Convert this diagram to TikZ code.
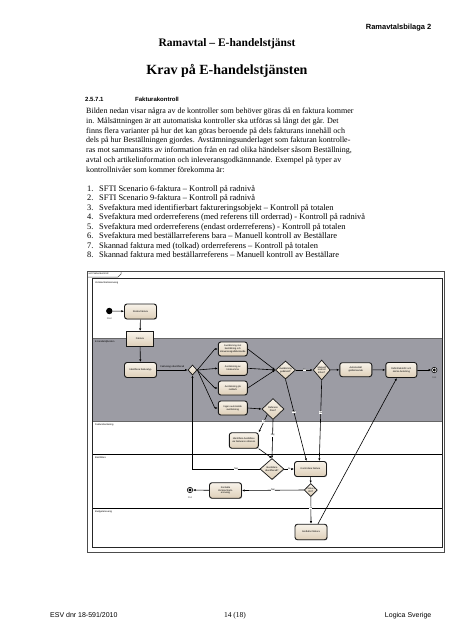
\documentclass[tikz,border=0pt]{standalone}
\usepackage{fontspec}
\setmainfont{Liberation Serif}
\setsansfont{Liberation Sans}
\usepackage{tikz}
\usetikzlibrary{shapes.geometric,arrows.meta,shadows}
\pgfdeclarelayer{lanes}
\pgfdeclarelayer{bg}
\pgfsetlayers{lanes,bg,main}
\definecolor{lanegrey}{RGB}{156,156,164}
\definecolor{actlight}{RGB}{248,243,234}
\definecolor{actdark}{RGB}{222,207,184}
\newcommand{\umlfont}{\fontsize{2.4}{2.8}\selectfont\sffamily}
\tikzset{
    every node/.style={inner sep=0pt},
    act/.style={rectangle, rounded corners=2.5pt, draw=black!90, line width=0.9pt,
        top color=actlight, bottom color=actdark, align=center, font=\umlfont,
        drop shadow={shadow xshift=0.7pt, shadow yshift=-0.7pt, fill=black!45},
        minimum width=32pt, minimum height=15pt},
    obj/.style={act, rounded corners=0pt, minimum width=27pt},
    dec/.style={diamond, draw=black!90, line width=0.7pt, top color=actlight,
        bottom color=actdark, align=center, font=\umlfont,
        drop shadow={shadow xshift=0.6pt, shadow yshift=-0.6pt, fill=black!45}},
    startn/.style={circle, fill=black, minimum size=6.4pt},
    endn/.style={circle, draw=black, line width=0.6pt, fill=white, minimum size=5.4pt,
        path picture={\fill[black] (path picture bounding box.center) circle (1.6pt);}},
    flow/.style={draw, line width=0.6pt, -{Latex[length=2.6pt,width=2.2pt]}},
    lbl/.style={font=\umlfont, fill=white, inner sep=0.3pt},
    small/.style={font=\umlfont, text=black!70},
    lane/.style={font=\umlfont, anchor=west},
    body/.style={font=\fontsize{8}{9.82}\selectfont, anchor=base west},
    item/.style={font=\fontsize{8.4}{9.5}\selectfont, anchor=base west}
}

\begin{document}
\begin{tikzpicture}[x=1pt, y=-1pt]
    \useasboundingbox (0,0) rectangle (453,640);

    % page head
    \node (bilaga) [anchor=east, font=\fontsize{7.5}{9}\selectfont\sffamily\bfseries] at (431.5, 27.7) {Ramavtalsbilaga 2};
    \node (rubrik) [font=\fontsize{11.5}{13}\selectfont\bfseries] at (227, 43.5) {Ramavtal -- E-handelstjänst};
    \node (titel) [font=\fontsize{14}{16}\selectfont\bfseries] at (227, 70.5) {Krav på E-handelstjänsten};
    \node (secnr) [anchor=base west, font=\fontsize{6}{7}\selectfont\sffamily\bfseries] at (85, 101) {2.5.7.1};
    \node (secrub) [anchor=base west, font=\fontsize{6}{7}\selectfont\sffamily\bfseries] at (135, 101) {Fakturakontroll};

    \node (p1) [body] at (86, 113.5) {Bilden nedan visar några av de kontroller som behöver göras då en faktura kommer};
    \node (p2) [body] at (86, 123.3) {in. Målsättningen är att automatiska kontroller ska utföras så långt det går. Det};
    \node (p3) [body] at (86, 133.1) {finns flera varianter på hur det kan göras beroende på dels fakturans innehåll och};
    \node (p4) [body] at (86, 142.9) {dels på hur Beställningen gjordes. Avstämningsunderlaget som fakturan kontrolle-};
    \node (p5) [body] at (86, 152.7) {ras mot sammansätts av information från en rad olika händelser såsom Beställning,};
    \node (p6) [body] at (86, 162.5) {avtal och artikelinformation och inleveransgodkännnande. Exempel på typer av};
    \node (p7) [body] at (86, 172.3) {kontrollnivåer som kommer förekomma är:};

    \node (l1) [item] at (87, 191.2) {\makebox[12pt][l]{1.}SFTI Scenario 6-faktura -- Kontroll på radnivå};
    \node (l2) [item] at (87, 200.7) {\makebox[12pt][l]{2.}SFTI Scenario 9-faktura -- Kontroll på radnivå};
    \node (l3) [item] at (87, 210.2) {\makebox[12pt][l]{3.}Svefaktura med identifierbart faktureringsobjekt -- Kontroll på totalen};
    \node (l4) [item] at (87, 219.7) {\makebox[12pt][l]{4.}Svefaktura med orderreferens (med referens till orderrad) - Kontroll på radnivå};
    \node (l5) [item] at (87, 229.2) {\makebox[12pt][l]{5.}Svefaktura med orderreferens (endast orderreferens) - Kontroll på totalen};
    \node (l6) [item] at (87, 238.7) {\makebox[12pt][l]{6.}Svefaktura med beställarreferens bara -- Manuell kontroll av Beställare};
    \node (l7) [item] at (87, 248.2) {\makebox[12pt][l]{7.}Skannad faktura med (tolkad) orderreferens -- Kontroll på totalen};
    \node (l8) [item] at (87, 257.7) {\makebox[12pt][l]{8.}Skannad faktura med beställarreferens -- Manuell kontroll av Beställare};

    % frame and swimlanes
    \begin{pgfonlayer}{lanes}
        \fill[lanegrey] (92.5, 338) rectangle (442, 421);
        \draw[black!70, line width=0.5pt] (87, 271) rectangle (444, 552);
        \draw[black!70, line width=0.5pt] (87, 277) -- (118, 277) -- (121, 274) -- (121, 271);
        \draw[black!85, line width=0.8pt] (92.5, 278.5) rectangle (442, 547);
        \draw[black!60, line width=0.6pt] (92.5, 338) -- (442, 338);
        \draw[black!60, line width=0.6pt] (92.5, 421) -- (442, 421);
        \draw[black, line width=0.8pt] (92.5, 454) -- (442, 454);
        \draw[black, line width=0.8pt] (92.5, 508) -- (442, 508);
    \end{pgfonlayer}
    \node (act) [lane] at (88.5, 274) {act Fakturakontroll};
    \node (lane1) [lane] at (95, 283) {Verksamhetsansvarig};
    \node (lane2) [lane] at (95, 342) {E-handelstjänsten};
    \node (lane3) [lane] at (95, 425) {Fakturahantering};
    \node (lane4) [lane] at (95, 458) {Beställare};
    \node (lane5) [lane] at (95, 512) {Budgetansvarig};

    % activities
    \node (start) [startn] at (109.3, 311) {};
    \node (startl) [small] at (109.3, 319) {Start};
    \node (skicka) [act] at (140.5, 311.5) {Skicka faktura};
    \node (faktura) [obj] at (140, 339) {Faktura};
    \node (ident) [act] at (140.5, 370) {Identifiera fakturatyp};
    \node (d1) [dec, minimum width=9pt, minimum height=10pt] at (192.5, 370) {};
    \node (na) [act, minimum width=29pt, minimum height=14pt] at (232.8, 349) {Avstämning mot\\beställning och\\inleveransgodkännande};
    \node (nb) [act, minimum width=29pt, minimum height=14pt] at (232.8, 368.3) {Avstämning av\\totalsumma};
    \node (nc) [act, minimum width=29pt, minimum height=14pt] at (232.8, 388) {Avstämning på\\radnivå};
    \node (nd) [act, minimum width=29pt, minimum height=14pt] at (232.8, 408) {Ingen automatisk\\avstämning};
    \node (d2) [dec, minimum width=20pt, minimum height=18pt] at (285.5, 370) {Avstämning\\godkänd?};
    \node (d3) [dec, minimum width=17pt, minimum height=20pt] at (321.7, 370) {Manuell\\kontroll\\krävs?};
    \node (auto) [act, minimum height=14pt] at (355.8, 369.7) {Automatiskt\\godkännande};
    \node (bok) [act, minimum width=31pt] at (401.3, 370) {Definitivbokför och\\skicka betalning};
    \node (end1) [endn] at (434.3, 370) {};
    \node (end1l) [small] at (434.3, 377.5) {Slut};
    \node (d5) [dec, minimum width=22pt, minimum height=21pt] at (273, 409) {Referens\\finns?};
    \node (idb) [act, minimum width=29pt, minimum height=15.5pt] at (243.8, 440.5) {Identifiera beställare\\via fakturans referens};
    \node (d6) [dec, minimum width=24pt, minimum height=21pt] at (272, 469) {Beställare\\identifierad?};
    \node (kontr) [act] at (310.5, 469) {Kontrollera faktura};
    \node (d4) [dec, minimum width=13pt, minimum height=13pt] at (310.8, 490) {Faktura\\OK?};
    \node (kont) [act, minimum height=15.5pt] at (225.5, 490.5) {Kontakta\\Verksamhets-\\ansvarig};
    \node (end2) [endn] at (190, 490) {};
    \node (end2l) [small] at (190, 497.5) {Slut};
    \node (godk) [act, minimum height=15.5pt] at (311, 532) {Godkänn faktura};

    \begin{pgfonlayer}{bg}
        \draw[flow] (start) -- (skicka);
        \draw[flow] (skicka) -- (faktura);
        \draw[flow] (faktura) -- (ident);
        \draw[flow] (ident) -- node[lbl, above=1pt, fill=none] {Fakturatyp identifierad} (d1);

        \draw[flow] (d1.east) -- ([xshift=-3pt]na.west) -- (na.west);
        \draw[flow] (d1.east) -- (nb.west);
        \draw[flow] (d1.east) -- ([xshift=-3pt]nc.west) -- (nc.west);
        \draw[flow] (d1.east) -- ([xshift=-3pt]nd.west) -- (nd.west);

        \draw[flow] (na.east) -- (d2.west);
        \draw[flow] (nb.east) -- (d2.west);
        \draw[flow] (nc.east) -- (d2.west);
        \draw[flow] (nd.east) -- (d5.west);

        \draw[flow] (d2) -- node[lbl] {Ja} (d3);
        \draw[flow] (d3) -- (auto);
        \draw[flow] (auto) -- (bok);
        \draw[flow] (bok) -- (end1);

        \draw[flow] (d2.south) -- node[lbl, pos=0.4] {Nej} ([xshift=-4pt]kontr.north);
        \draw[flow] (d3.south) -- node[lbl, pos=0.4] {Ja} ([xshift=8.8pt]kontr.north);

        \draw[flow] (d5.south west) -- node[lbl, pos=0.4] {Ja} (idb.north east);
        \draw[flow] (d5.south) -- node[lbl, pos=0.4] {Nej} (d6.north);
        \draw[flow] (idb.south east) -- (d6.north);
        \draw[flow] (d6.east) -- node[lbl] {Ja} (kontr.west);
        \draw[flow] (d6.west) -- node[lbl, pos=0.35] {Nej} (192.5, 469) -- (d1.south);

        \draw[flow] (kontr) -- (d4);
        \draw[flow] (d4.west) -- node[lbl] {Nej} (kont.east);
        \draw[flow] (kont) -- (end2);
        \draw[flow] (d4.south) -- node[lbl, pos=0.4] {Ja} (godk.north);
        \draw[flow] ([xshift=7pt]godk.north) -- ([xshift=-4.5pt]bok.south);
    \end{pgfonlayer}

    % page foot
    \node (dnr) [anchor=base west, font=\fontsize{7}{8}\selectfont\sffamily] at (50, 617) {ESV dnr 18-591/2010};
    \node (sida) [anchor=base, font=\fontsize{7.5}{9}\selectfont] at (235, 617) {14 (18)};
    \node (logica) [anchor=base east, font=\fontsize{7}{8}\selectfont\sffamily] at (431.5, 617) {Logica Sverige};
\end{tikzpicture}
\end{document}
